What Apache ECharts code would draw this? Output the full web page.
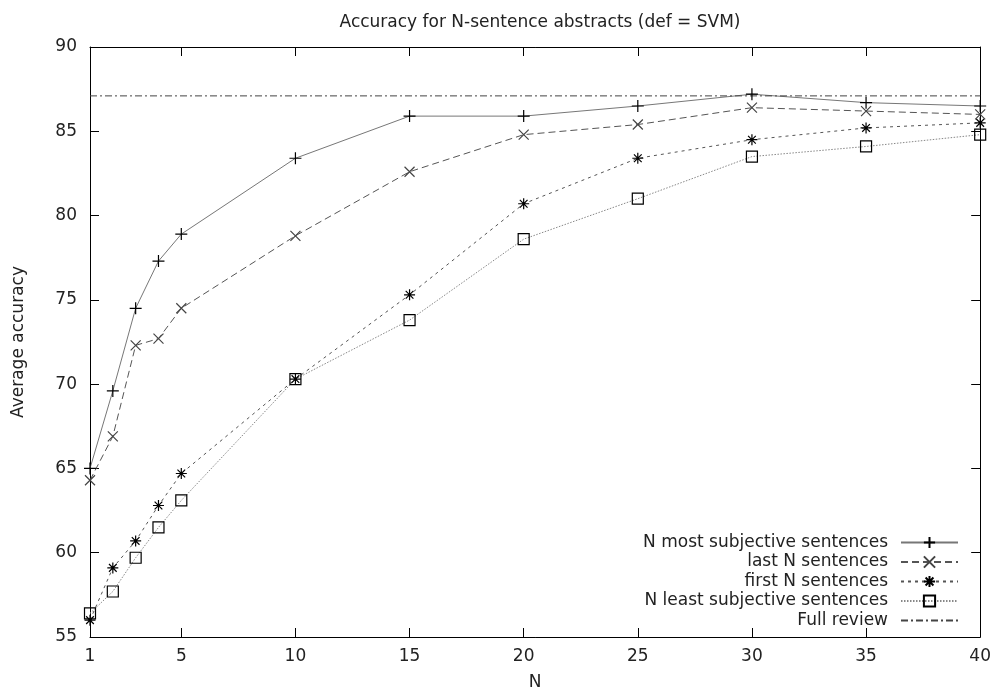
<!DOCTYPE html>
<html>
<head>
<meta charset="utf-8">
<script src="https://cdn.jsdelivr.net/npm/echarts@6/dist/echarts.min.js"></script>
<style>
  html, body { margin: 0; padding: 0; background: #fff; }
  #chart { width: 994px; height: 696px; }
</style>
</head>
<body>
<div id="chart"></div>
<script>
  // N values (x)
  const nValues = [1, 2, 3, 4, 5, 10, 15, 20, 25, 30, 35, 40]
  // accuracy per series
  const mostSubjective = [65.0, 69.6, 74.5, 77.3, 78.9, 83.4, 85.9, 85.9, 86.5, 87.2, 86.7, 86.5]
  const lastN = [64.3, 66.9, 72.3, 72.7, 74.5, 78.8, 82.6, 84.8, 85.4, 86.4, 86.2, 86.0]
  const firstN = [56.0, 59.1, 60.7, 62.8, 64.7, 70.3, 75.3, 80.7, 83.4, 84.5, 85.2, 85.5]
  const leastSubjective = [56.4, 57.7, 59.7, 61.5, 63.1, 70.3, 73.8, 78.6, 81.0, 83.5, 84.1, 84.8]
  const fullReview = 87.1
  // tick labels
  const xTicks = [1, 5, 10, 15, 20, 25, 30, 35, 40]
  const yTicks = [55, 60, 65, 70, 75, 80, 85, 90]

  const font = 'DejaVu Sans, Liberation Sans, sans-serif'
  const txt = '#222'

  const pairs = (arr) => nValues.map((n, i) => [n, arr[i]])

  const plusPath = 'path://M0,5L10,5M5,0L5,10'
  const crossPath = 'path://M0,0L10,10M0,10L10,0'
  const starPath = 'path://M0,5L10,5M5,0L5,10M1.5,1.5L8.5,8.5M1.5,8.5L8.5,1.5'

  const mkSeries = (name, arr, symbol, size, lineColor, dash, markColor) => ({
    name,
    type: 'line',
    data: pairs(arr),
    symbol,
    symbolSize: size,
    showSymbol: true,
    lineStyle: { color: lineColor, width: 1, type: dash },
    itemStyle: { color: 'transparent', borderColor: markColor, borderWidth: 1.2 }
  })

  const chart = echarts.init(document.getElementById('chart'))

  const innerTick = { show: true, inside: true, length: 9, lineStyle: { color: '#000', width: 1 } }

  chart.setOption({
    animation: false,
    backgroundColor: '#fff',
    title: {
      text: 'Accuracy for N-sentence abstracts (def = SVM)',
      left: 535, top: 9, textAlign: 'center',
      textStyle: { fontFamily: font, fontSize: 17, fontWeight: 'normal', color: txt }
    },
    grid: { left: 90, right: 13, top: 47, bottom: 57 },
    legend: {
      orient: 'vertical',
      align: 'right',
      right: 30,
      top: 529,
      itemWidth: 57,
      itemHeight: 14,
      itemGap: 2.5,
      textStyle: { fontFamily: font, fontSize: 17, lineHeight: 17, color: txt, padding: [0, 8, 0, 0] },
      data: ['N most subjective sentences', 'last N sentences', 'first N sentences', 'N least subjective sentences', 'Full review']
    },
    xAxis: [{
      type: 'value', min: 1, max: 40, position: 'bottom',
      name: 'N', nameLocation: 'middle', nameGap: 37,
      nameTextStyle: { fontFamily: font, fontSize: 17, color: txt },
      axisLine: { show: true, lineStyle: { color: '#000', width: 1 } },
      axisTick: Object.assign({ customValues: xTicks }, innerTick),
      axisLabel: { customValues: xTicks, fontFamily: font, fontSize: 17, color: txt, margin: 11 },
      splitLine: { show: false }
    }, {
      type: 'value', min: 1, max: 40, position: 'top',
      axisLine: { show: true, lineStyle: { color: '#000', width: 1 } },
      axisTick: Object.assign({ customValues: xTicks.slice(1, -1) }, innerTick),
      axisLabel: { show: false },
      splitLine: { show: false }
    }],
    yAxis: [{
      type: 'value', min: 55, max: 90, interval: 5, position: 'left',
      name: 'Average accuracy', nameLocation: 'middle', nameGap: 63,
      nameTextStyle: { fontFamily: font, fontSize: 17, color: txt },
      axisLine: { show: true, lineStyle: { color: '#000', width: 1 } },
      axisTick: innerTick,
      axisLabel: { fontFamily: font, fontSize: 17, color: txt, margin: 13,
        formatter: (v) => yTicks.includes(v) ? String(v) : '' },
      splitLine: { show: false }
    }, {
      type: 'value', min: 55, max: 90, interval: 5, position: 'right',
      axisLine: { show: true, lineStyle: { color: '#000', width: 1 } },
      axisTick: innerTick,
      axisLabel: { show: false },
      splitLine: { show: false }
    }],
    series: [
      mkSeries('N most subjective sentences', mostSubjective, plusPath, 12, '#777', 'solid', '#000'),
      mkSeries('last N sentences', lastN, crossPath, 10, '#555', [7, 4], '#444'),
      mkSeries('first N sentences', firstN, starPath, 11, '#555', [3, 4], '#000'),
      mkSeries('N least subjective sentences', leastSubjective, 'rect', 11, '#888', [1.5, 1.5], '#000'),
      {
        name: 'Full review',
        type: 'line',
        data: [[xTicks[0], fullReview], [xTicks[xTicks.length - 1], fullReview]],
        symbol: 'none',
        lineStyle: { color: '#444', width: 1, type: [7, 3, 2, 3] },
        itemStyle: { color: 'transparent', borderColor: 'transparent' }
      }
    ]
  })
</script>
</body>
</html>
